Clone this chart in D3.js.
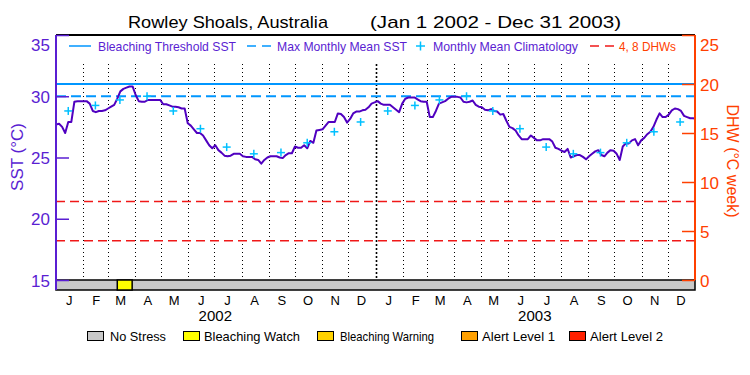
<!DOCTYPE html>
<html><head><meta charset="utf-8">
<script src="https://cdn.jsdelivr.net/npm/d3@7"></script>
<style>
body{margin:0;background:#fff;}
svg{display:block;font-family:"Liberation Sans","DejaVu Sans",sans-serif;}
</style></head>
<body><svg id="c" width="750" height="375"></svg>
<script>
// ---------- data ----------
const titleLeft = "Rowley Shoals, Australia";
const titleRight = "(Jan 1 2002 - Dec 31 2003)";
const sstStart = "2002-01-01";
const sstStepHours = 84; // twice-weekly
const sst = [27.7,27.75,27.5,27.0,27.9,27.9,29.55,29.6,29.6,29.6,29.6,29.4,28.8,28.7,28.8,28.8,28.85,29.0,29.15,29.3,
29.8,30.4,30.6,30.7,30.8,30.8,30.1,29.6,29.55,29.55,29.7,29.7,29.7,29.7,29.7,29.35,29.35,29.25,29.15,29.15,
29.1,29.0,29.0,27.8,27.6,27.3,27.0,27.0,26.8,26.4,26.0,25.75,26.0,25.6,25.4,25.15,25.1,25.15,25.3,25.3,
25.3,25.1,25.05,25.05,25.05,24.85,24.8,24.5,24.8,25.0,25.1,25.1,25.1,25.0,24.95,25.2,25.35,25.35,25.9,25.8,
25.8,26.0,25.75,26.35,26.2,27.2,27.25,27.3,27.6,27.9,27.9,27.9,28.6,28.55,28.3,27.85,28.15,28.6,28.75,28.75,
28.85,28.9,29.1,29.4,29.5,29.6,29.4,29.3,29.3,29.3,29.1,28.9,28.7,29.4,29.8,29.9,29.9,29.9,29.75,29.6,
29.55,29.55,28.3,28.3,28.8,29.4,29.5,29.6,29.8,29.95,29.95,29.95,29.9,29.55,29.5,29.55,29.65,29.3,29.15,29.1,
28.9,28.85,28.95,28.8,28.75,28.5,28.55,28.0,27.5,27.4,27.2,26.8,26.5,26.5,26.5,26.8,26.6,26.4,26.4,26.5,
26.5,26.5,26.3,25.8,25.7,25.55,25.45,25.7,25.0,25.1,25.2,25.2,25.05,24.85,25.1,25.3,25.5,25.6,25.2,25.1,
25.4,25.6,25.55,25.3,24.8,25.9,26.15,26.15,26.4,26.5,26.0,26.4,26.6,26.9,27.1,27.5,28.1,28.6,28.3,28.3,
28.5,28.85,29.0,28.95,28.8,28.4,28.3,28.2,28.2,28.15];
const climYears = [2002, 2003];
const climatology = [28.8,29.25,29.7,30.0,28.8,27.35,25.85,25.3,25.4,26.2,27.1,27.9];
const bleachingThreshold = 31.0;
const maxMonthlyMean = 30.0;
const dhwLevels = [4, 8];
const monthLetters = ["J","F","M","A","M","J","J","A","S","O","N","D"];
const yearLabels = ["2002","2003"];
const stressStarts = ["2002-03-12"];
const stressEnds = ["2002-03-29"];
const stressLevels = ["Bleaching Watch"];
const stressNames = ["No Stress","Bleaching Watch","Bleaching Warning","Alert Level 1","Alert Level 2"];
const stressColors = ["#c8c8c8","#ffff00","#ffd200","#ffa000","#ff2000"];
const sstTicks = [15,20,25,30,35];
const dhwTicks = [0,5,10,15,20,25];

// ---------- layout ----------
const L = 56, R = 695, T = 35, B = 280, BAR = 10;
const purple = "#5a1ed2", lineCol = "#5000c0", orange = "#ff4000";
const svg = d3.select("#c");
const parse = d3.timeParse("%Y-%m-%d");
const t0 = parse(sstStart);
const tEnd = new Date(2004,0,1);
const x = d3.scaleTime().domain([t0, tEnd]).range([L, R]);
const y = d3.scaleLinear().domain([15,35]).range([B, T]);
const yR = d3.scaleLinear().domain([0,25]).range([B, T]);

svg.append("clipPath").attr("id","clip").append("rect").attr("x",L).attr("y",T).attr("width",R-L).attr("height",B-T);

// title
svg.append("text").attr("x",128).attr("y",28).attr("font-size",17).attr("textLength",200)
  .attr("lengthAdjust","spacingAndGlyphs").text(titleLeft);
svg.append("text").attr("x",370).attr("y",28).attr("font-size",17).attr("textLength",251)
  .attr("lengthAdjust","spacingAndGlyphs").text(titleRight);

// month dotted lines
const monthStarts = d3.timeMonth.range(new Date(2002,1,1), tEnd);
svg.append("g").selectAll("line").data(monthStarts).join("line")
  .attr("x1",d=>Math.round(x(d))+0.5).attr("x2",d=>Math.round(x(d))+0.5)
  .attr("y1",64).attr("y2",B)
  .attr("stroke","#000")
  .attr("stroke-width",d=>d.getMonth()===0?1.6:1)
  .attr("stroke-dasharray",d=>d.getMonth()===0?"2,2":"1,3");

// reference lines
svg.append("line").attr("x1",L).attr("x2",R).attr("y1",y(bleachingThreshold)).attr("y2",y(bleachingThreshold))
  .attr("stroke","#0096ff").attr("stroke-width",2);
svg.append("line").attr("x1",L).attr("x2",R).attr("y1",y(maxMonthlyMean)).attr("y2",y(maxMonthlyMean))
  .attr("stroke","#0096ff").attr("stroke-width",2).attr("stroke-dasharray","10,5");
svg.append("g").selectAll("line").data(dhwLevels).join("line")
  .attr("x1",L).attr("x2",R).attr("y1",d=>yR(d)).attr("y2",d=>yR(d))
  .attr("stroke","#f01818").attr("stroke-width",1.5).attr("stroke-dasharray","9,5");

// SST line
const sstData = sst.map((v,i)=>({d:d3.timeHour.offset(t0,i*sstStepHours), v}));
svg.append("path").datum(sstData).attr("clip-path","url(#clip)")
  .attr("d", d3.line().x(d=>x(d.d)).y(d=>y(d.v)))
  .attr("fill","none").attr("stroke",lineCol).attr("stroke-width",2).attr("stroke-linejoin","round");

// climatology crosses
const climData = [];
climYears.forEach(yr=>climatology.forEach((v,m)=>climData.push({d:new Date(yr,m,15),v})));
const cg = svg.append("g").attr("stroke","#00c0ff").attr("stroke-width",1.5);
cg.selectAll(".h").data(climData).join("line")
  .attr("x1",d=>x(d.d)-4).attr("x2",d=>x(d.d)+4).attr("y1",d=>y(d.v)).attr("y2",d=>y(d.v));
cg.selectAll(".v").data(climData).join("line")
  .attr("x1",d=>x(d.d)).attr("x2",d=>x(d.d)).attr("y1",d=>y(d.v)-4).attr("y2",d=>y(d.v)+4);

// stress bar
svg.append("rect").attr("x",L).attr("y",B).attr("width",R-L).attr("height",BAR)
  .attr("fill",stressColors[0]).attr("stroke","#000").attr("stroke-width",1.5);
svg.append("g").selectAll("rect").data(stressStarts).join("rect")
  .attr("x",(d)=>x(parse(d))).attr("y",B)
  .attr("width",(d,i)=>x(parse(stressEnds[i]))-x(parse(d))).attr("height",BAR)
  .attr("fill",(d,i)=>stressColors[stressNames.indexOf(stressLevels[i])])
  .attr("stroke","#000").attr("stroke-width",1.5);

// top border
svg.append("line").attr("x1",L).attr("x2",R).attr("y1",T).attr("y2",T).attr("stroke","#000").attr("stroke-width",2);

// left axis
const gl = svg.append("g").attr("transform",`translate(${L},0)`);
gl.call(d3.axisLeft(y).ticks(20).tickSize(-7).tickFormat(""));
gl.call(d3.axisLeft(y).tickValues(sstTicks).tickSize(-13).tickPadding(6).tickFormat(d3.format("d")));
gl.selectAll(".domain").remove();
gl.selectAll("line").attr("stroke",purple).attr("stroke-width",1.5);
gl.selectAll("text").attr("fill",purple).attr("font-size",17).attr("font-family","Liberation Sans, sans-serif")
  .attr("dy",(d)=>d===35?"0.9em":"0.36em");
svg.append("line").attr("x1",L).attr("x2",L).attr("y1",T).attr("y2",B+BAR).attr("stroke",purple).attr("stroke-width",2);
svg.append("text").attr("transform","translate(23,157) rotate(-90)").attr("text-anchor","middle")
  .attr("fill",purple).attr("font-size",17).text("SST (°C)");

// right axis
const gr = svg.append("g").attr("transform",`translate(${R},0)`);
gr.call(d3.axisRight(yR).ticks(25).tickSize(-7).tickFormat(""));
gr.call(d3.axisRight(yR).tickValues(dhwTicks).tickSize(-13).tickPadding(5).tickFormat(d3.format("d")));
gr.selectAll(".domain").remove();
gr.selectAll("line").attr("stroke",orange).attr("stroke-width",1.5);
gr.selectAll("text").attr("fill",orange).attr("font-size",17).attr("font-family","Liberation Sans, sans-serif")
  .attr("dy",(d)=>d===25?"0.9em":"0.36em");
svg.append("line").attr("x1",R).attr("x2",R).attr("y1",T).attr("y2",B).attr("stroke",orange).attr("stroke-width",2);
svg.append("text").attr("transform","translate(727,161) rotate(90)").attr("text-anchor","middle")
  .attr("fill",orange).attr("font-size",16).text("DHW (°C week)");

// month labels
const monthMids = d3.timeMonth.range(new Date(2002,0,1), tEnd).map(d=>new Date(d.getFullYear(),d.getMonth(),16));
svg.append("g").selectAll("text").data(monthMids).join("text")
  .attr("x",d=>x(d)).attr("y",305).attr("text-anchor","middle").attr("font-size",13)
  .text(d=>monthLetters[d.getMonth()]);
svg.append("g").selectAll("text").data(yearLabels).join("text")
  .attr("x",d=>x(new Date(+d,6,2))).attr("y",321).attr("text-anchor","middle").attr("font-size",15)
  .text(d=>d);

// top legend
const lg = svg.append("g");
lg.append("line").attr("x1",69).attr("x2",91).attr("y1",46).attr("y2",46).attr("stroke","#0096ff").attr("stroke-width",1.5);
lg.append("text").attr("x",98).attr("y",51).attr("font-size",13).attr("fill",purple).attr("textLength",138).attr("lengthAdjust","spacingAndGlyphs").text("Bleaching Threshold SST");
lg.append("line").attr("x1",247).attr("x2",271).attr("y1",46).attr("y2",46).attr("stroke","#0096ff").attr("stroke-width",1.5).attr("stroke-dasharray","9,6");
lg.append("text").attr("x",277).attr("y",51).attr("font-size",13).attr("fill",purple).attr("textLength",130).attr("lengthAdjust","spacingAndGlyphs").text("Max Monthly Mean SST");
lg.append("line").attr("x1",416).attr("x2",425).attr("y1",46).attr("y2",46).attr("stroke","#00c0ff").attr("stroke-width",1.5);
lg.append("line").attr("x1",420.5).attr("x2",420.5).attr("y1",41.5).attr("y2",50.5).attr("stroke","#00c0ff").attr("stroke-width",1.5);
lg.append("text").attr("x",433).attr("y",51).attr("font-size",13).attr("fill",purple).attr("textLength",145).attr("lengthAdjust","spacingAndGlyphs").text("Monthly Mean Climatology");
lg.append("line").attr("x1",590).attr("x2",614).attr("y1",46).attr("y2",46).attr("stroke","#f01818").attr("stroke-width",1.5).attr("stroke-dasharray","9,6");
lg.append("text").attr("x",619).attr("y",51).attr("font-size",13).attr("fill",orange).attr("textLength",57).attr("lengthAdjust","spacingAndGlyphs").text("4, 8 DHWs");

// bottom legend
const boxX = [87,183,317,461,569], txtX = [110,204,340,482,590], txtLen = [56,96,94,73,73];
const bl = svg.append("g").selectAll("g").data(stressNames).join("g");
bl.append("rect").attr("x",(d,i)=>boxX[i]+0.5).attr("y",331.5).attr("width",16).attr("height",9)
  .attr("fill",(d,i)=>stressColors[i]).attr("stroke","#000").attr("stroke-width",1);
bl.append("text").attr("x",(d,i)=>txtX[i]).attr("y",340.5).attr("font-size",13)
  .attr("textLength",(d,i)=>txtLen[i]).attr("lengthAdjust","spacingAndGlyphs").text(d=>d);
</script></body></html>
